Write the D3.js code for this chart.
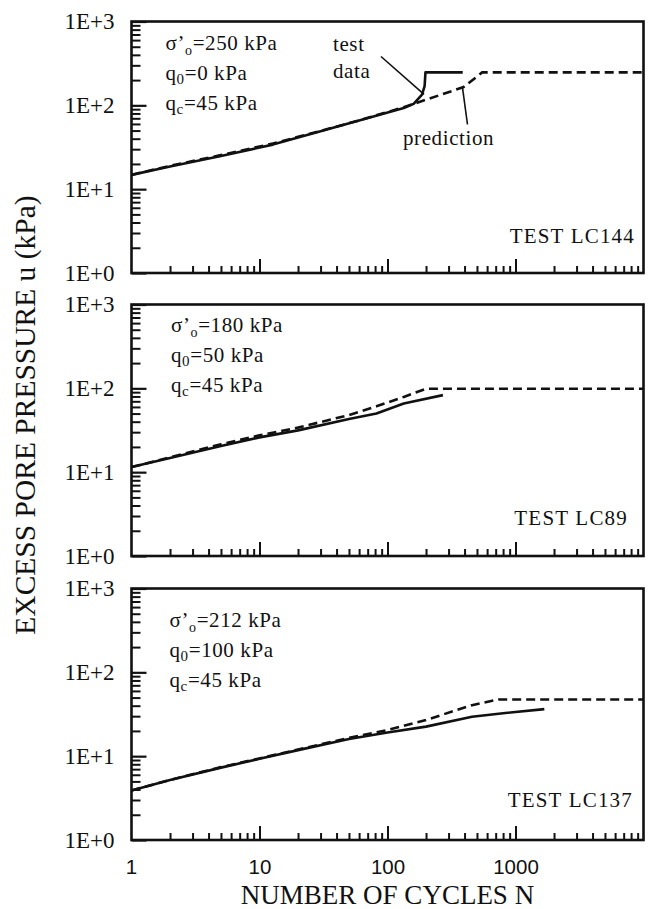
<!DOCTYPE html>
<html><head><meta charset="utf-8">
<script src="https://cdn.jsdelivr.net/npm/d3@7"></script>
<style>
html,body{margin:0;padding:0;background:#fff;}
svg{display:block;}
text{fill:#111;}
</style></head>
<body>
<svg id="c" width="649" height="909"></svg>
<script>
// ---- data ----
const yTickValues = [1, 10, 100, 1000];
const yTickLabels = ["1E+0", "1E+1", "1E+2", "1E+3"];
const xTickValues = [1, 10, 100, 1000];
const xTickLabels = ["1", "10", "100", "1000"];

const testNames = ["TEST LC144", "TEST LC89", "TEST LC137"];
const sigmaValues = ["250", "180", "212"];
const q0Values = ["0", "50", "100"];
const qcValues = ["45", "45", "45"];

// test data (solid) [N, u]
const measuredLC144 = [[1,14.8],[2,18.6],[5,24.8],[12.7,34],[30,49],[60,66],[134,93],[160,104],[186,134],[195,170],[198,247],[387,247]];
const measuredLC89  = [[1,11.5],[2,14.8],[5,20.5],[10,26],[20,31.5],[50,43],[82,50],[134,66],[271,83]];
const measuredLC137 = [[1,3.9],[2,5.2],[5,7.3],[10,9.3],[20,11.8],[50,16],[100,19.2],[200,22.5],[457,29.5],[800,32.5],[1680,36.4]];

// prediction (dashed) [N, u]
const predictedLC144 = [[1,14.8],[2,19],[5,25.5],[12.7,35],[30,49.5],[60,66],[134,95],[393,165],[549,247],[10000,247]];
const predictedLC89  = [[1,11.5],[2,15],[5,21.5],[10,27.5],[20,34],[50,48],[82,61],[134,79],[201,99],[10000,99]];
const predictedLC137 = [[1,3.9],[2,5.2],[5,7.4],[10,9.4],[20,12],[50,16.5],[100,20.5],[200,27],[457,40.6],[740,47.5],[10000,47.5]];

const measured = [measuredLC144, measuredLC89, measuredLC137];
const predicted = [predictedLC144, predictedLC89, predictedLC137];

// ---- layout ----
const svg = d3.select("#c");
const X0 = 131.5, X1 = 643.5;
const panelTops = [21.5, 304.5, 588.5];
const PH = 251.5;
const annoX = [165.5, 171, 169.5];
const annoDy = [28.5, 27.5, 38.5];
const testRight = [635, 628, 633];
const testDy = [30, 31, 33];

const x = d3.scaleLog().domain([1, 10000]).range([X0, X1]);

const serif = "'Liberation Serif','Times New Roman',serif";
const sans = "'Liberation Sans',Arial,sans-serif";

function minorTicks(lo, hi) {
  const out = [];
  for (let d = lo; d < hi; d *= 10)
    for (let k = 2; k <= 9; k++) out.push(k * d);
  return out;
}

panelTops.forEach((top, i) => {
  const y = d3.scaleLog().domain([1, 1000]).range([top + PH, top]);
  const g = svg.append("g");

  // data lines
  const line = d3.line().x(d => x(d[0])).y(d => y(d[1]));
  g.append("path").datum(predicted[i]).attr("d", line)
    .attr("fill", "none").attr("stroke", "#111").attr("stroke-width", 2.6)
    .attr("stroke-dasharray", "9,5");
  g.append("path").datum(measured[i]).attr("d", line)
    .attr("fill", "none").attr("stroke", "#111").attr("stroke-width", 2.6)
    .attr("stroke-linejoin", "round");

  // y axis major ticks + labels
  const ya = g.append("g").attr("transform", `translate(${X0},0)`)
    .call(d3.axisLeft(y).tickValues(yTickValues)
      .tickFormat((d, j) => yTickLabels[j]).tickSize(-15).tickPadding(17));
  ya.select(".domain").remove();
  ya.selectAll("line").attr("stroke", "#111").attr("stroke-width", 2.2);
  ya.selectAll("text").attr("font-family", serif).attr("font-size", 23).attr("fill", "#111");

  // y minor ticks
  const ym = g.append("g").attr("transform", `translate(${X0},0)`)
    .call(d3.axisLeft(y).tickValues(minorTicks(1, 1000)).tickFormat("").tickSize(-9));
  ym.select(".domain").remove();
  ym.selectAll("line").attr("stroke", "#111").attr("stroke-width", 2);

  // x axis
  const xa = g.append("g").attr("transform", `translate(0,${top + PH})`)
    .call(d3.axisBottom(x).tickValues(xTickValues.slice(1))
      .tickFormat((d) => i === 2 ? xTickLabels[xTickValues.indexOf(d)] : "")
      .tickSize(-14).tickPadding(19));
  xa.select(".domain").remove();
  xa.selectAll("line").attr("stroke", "#111").attr("stroke-width", 2);
  xa.selectAll("text").attr("font-family", sans).attr("font-size", 20.5).attr("fill", "#111");

  const xm = g.append("g").attr("transform", `translate(0,${top + PH})`)
    .call(d3.axisBottom(x).tickValues(minorTicks(1, 10000)).tickFormat("").tickSize(-7));
  xm.select(".domain").remove();
  xm.selectAll("line").attr("stroke", "#111").attr("stroke-width", 2);

  if (i === 2) {
    // label for N=1 at the corner
    g.append("text").attr("x", x(1)).attr("y", top + PH + 19).attr("dy", "0.71em")
      .attr("text-anchor", "middle").attr("font-family", sans).attr("font-size", 20.5)
      .text(xTickLabels[0]);
  }

  // frame
  g.append("rect").attr("x", X0).attr("y", top).attr("width", X1 - X0).attr("height", PH)
    .attr("fill", "none").attr("stroke", "#111").attr("stroke-width", 2.6);

  // parameter annotation
  const a = g.append("g").attr("font-family", serif).attr("font-size", 21)
    .attr("letter-spacing", 0.6);
  const t1 = a.append("text").attr("x", annoX[i]).attr("y", top + annoDy[i]);
  t1.append("tspan").text("σ’");
  t1.append("tspan").attr("font-size", 14).attr("dy", 5).text("o");
  t1.append("tspan").attr("dy", -5).text("=" + sigmaValues[i] + " kPa");
  const t2 = a.append("text").attr("x", annoX[i]).attr("y", top + annoDy[i] + 30);
  t2.append("tspan").text("q");
  t2.append("tspan").attr("font-size", 15).attr("dy", 4).text("0");
  t2.append("tspan").attr("dy", -4).text("=" + q0Values[i] + " kPa");
  const t3 = a.append("text").attr("x", annoX[i]).attr("y", top + annoDy[i] + 60);
  t3.append("tspan").text("q");
  t3.append("tspan").attr("font-size", 15).attr("dy", 4).text("c");
  t3.append("tspan").attr("dy", -4).text("=" + qcValues[i] + " kPa");

  // test name
  g.append("text").attr("x", testRight[i]).attr("y", top + PH - testDy[i])
    .attr("text-anchor", "end").attr("font-family", serif).attr("font-size", 21)
    .attr("letter-spacing", 1.2).text(testNames[i]);

  if (i === 0) {
    // callouts
    const c = g.append("g").attr("font-family", serif).attr("font-size", 21).attr("letter-spacing", 0.6);
    c.append("text").attr("x", 333).attr("y", top + 29).text("test");
    c.append("text").attr("x", 333).attr("y", top + 56).text("data");
    c.append("text").attr("x", 403).attr("y", top + 123).text("prediction");
    g.append("line").attr("x1", 381).attr("y1", top + 35).attr("x2", x(193)).attr("y2", y(135))
      .attr("stroke", "#111").attr("stroke-width", 1.6);
    g.append("line").attr("x1", x(385)).attr("y1", y(165)).attr("x2", 467.5).attr("y2", top + 103)
      .attr("stroke", "#111").attr("stroke-width", 1.6);
  }
});

// axis titles
svg.append("text").attr("x", (X0 + X1) / 2 - 0).attr("y", 904)
  .attr("text-anchor", "middle").attr("font-family", serif).attr("font-size", 27)
  .text("NUMBER OF CYCLES N");
svg.append("text").attr("transform", "translate(35,415) rotate(-90)")
  .attr("text-anchor", "middle").attr("font-family", serif).attr("font-size", 29.5)
  .text("EXCESS PORE PRESSURE u (kPa)");
</script>
</body></html>
